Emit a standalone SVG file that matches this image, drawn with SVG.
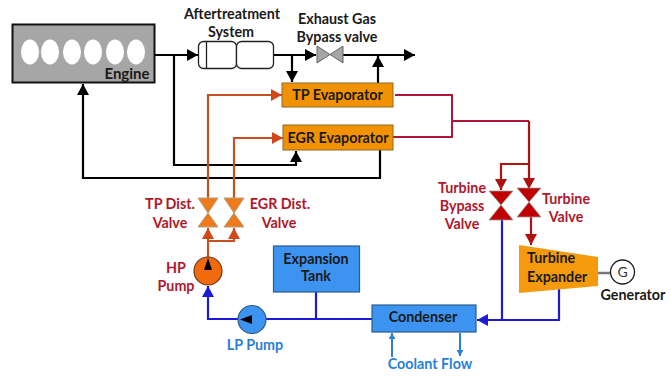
<svg xmlns="http://www.w3.org/2000/svg" width="671" height="376" viewBox="0 0 671 376">
<style>
text{font-family:"Lato","Liberation Sans",sans-serif;font-weight:700;font-size:14.300px;text-anchor:middle}
.k{fill:#1a1a1a}.r{fill:#b0172a}.b{fill:#2a7fd6}
.w{fill:none;stroke-linejoin:miter}
.kl{stroke:#000;stroke-width:2.200}.ol{stroke:#c5511f;stroke-width:2.200}.rl{stroke:#b0153a;stroke-width:2}.dr{stroke:#b01010;stroke-width:2.200}.bl{stroke:#1c1cd6;stroke-width:2.200}.cl{stroke:#2a7fd6;stroke-width:2}
.or{fill:#f39200;stroke:#8a6a30;stroke-width:1}
.bx{fill:#3d94f0;stroke:#2b5c8c;stroke-width:1.200}
</style>
<defs>
<marker id="ak" markerWidth="13" markerHeight="13" refX="11" refY="6" orient="auto" markerUnits="userSpaceOnUse"><path d="M0 0L11 6L0 12Z" fill="#000"/></marker>
<marker id="ao" markerWidth="13" markerHeight="13" refX="11" refY="6" orient="auto" markerUnits="userSpaceOnUse"><path d="M0 0L11 6L0 12Z" fill="#d0481a"/></marker>
<marker id="ar" markerWidth="13" markerHeight="13" refX="11" refY="6" orient="auto" markerUnits="userSpaceOnUse"><path d="M0 0L11 6L0 12Z" fill="#b01010"/></marker>
<marker id="ab" markerWidth="13" markerHeight="13" refX="11" refY="6" orient="auto" markerUnits="userSpaceOnUse"><path d="M0 0L11 6L0 12Z" fill="#1c1cd6"/></marker>
<marker id="ac" markerWidth="8" markerHeight="8" refX="6" refY="3.500" orient="auto" markerUnits="userSpaceOnUse"><path d="M0 0L6 3.500L0 7Z" fill="#2a7fd6"/></marker>
</defs>
<rect width="671" height="376" fill="#fff"/>
<g id="connectors" class="w">
<path class="kl" d="M155 55H198" marker-end="url(#ak)"/>
<path class="kl" d="M273 55H316" marker-end="url(#ak)"/>
<path class="kl" d="M343 55H415" marker-end="url(#ak)"/>
<path class="kl" d="M292 55V82" marker-end="url(#ak)"/>
<path class="kl" d="M378 83V56" marker-end="url(#ak)"/>
<path class="kl" d="M174 55V165H296V151" marker-end="url(#ak)"/>
<path class="kl" d="M380 150V178H83V84" marker-end="url(#ak)"/>
<path class="ol" d="M208 198V95H282" marker-end="url(#ao)"/>
<path class="ol" d="M234 198V138H283" marker-end="url(#ao)"/>
<path class="ol" d="M208 257V228" marker-end="url(#ao)"/>
<path class="ol" d="M208 241H234V228" marker-end="url(#ao)"/>
<path class="rl" d="M395 95H452V137H393"/>
<path class="rl" d="M452 121H529"/>
<path class="dr" d="M529 121V189" marker-end="url(#ar)"/>
<path class="dr" d="M529 164H501V190" marker-end="url(#ar)"/>
<path class="dr" d="M531 217V245" marker-end="url(#ar)"/>
<path class="bl" d="M238 319H208V286" marker-end="url(#ab)"/>
<path class="bl" d="M266 319H372"/>
<path class="bl" d="M316 292V319"/>
<path class="bl" d="M502 220V319"/>
<path class="bl" d="M559 289V320H477" marker-end="url(#ab)"/>
<path class="cl" d="M392 357V333" marker-end="url(#ac)"/>
<path class="cl" d="M460 333V356" marker-end="url(#ac)"/>
<path d="M598 273H611" stroke="#777" stroke-width="2.500"/>
</g>
<g id="engine">
<rect x="12.500" y="24.500" width="142" height="58" fill="#a6a6a6" stroke="#111" stroke-width="2"/>
<g fill="#fff"><ellipse cx="30" cy="52" rx="9" ry="12.500"/><ellipse cx="50" cy="52" rx="9" ry="12.500"/><ellipse cx="72" cy="52" rx="9" ry="12.500"/><ellipse cx="93" cy="52" rx="9" ry="12.500"/><ellipse cx="115" cy="52" rx="9" ry="12.500"/><ellipse cx="136" cy="52" rx="9" ry="12.500"/></g>
<text x="127" y="79" class="k" style="font-size:15px">Engine</text>
</g>
<g id="aftertreatment">
<rect x="198.500" y="41.500" width="38" height="27" rx="5" fill="#fff" stroke="#222" stroke-width="1.300"/>
<rect x="236.500" y="41.500" width="37" height="27" rx="5" fill="#fff" stroke="#222" stroke-width="1.300"/>
<path d="M206.500 41.500V68.500" stroke="#222" stroke-width="1.300"/>
<text x="232" y="19" class="k">Aftertreatment</text>
<text x="231" y="37" class="k">System</text>
</g>
<g id="bypass-valve">
<path d="M317 46L343 63V46L317 63Z" fill="#a6a6a6" stroke="#666" stroke-width="1"/>
<text x="337" y="24" class="k">Exhaust Gas</text>
<text x="337" y="42" class="k">Bypass valve</text>
</g>
<g id="tp-evaporator"><rect x="282" y="83" width="111" height="24" class="or"/><text x="337.500" y="100" class="k">TP Evaporator</text></g>
<g id="egr-evaporator"><rect x="283" y="125" width="110" height="25" class="or"/><text x="338" y="143" class="k">EGR Evaporator</text></g>
<g id="tp-dist-valve">
<path d="M198 198H218L208 213L218 227H198L208 213Z" fill="#f07a1a" stroke="#b0a080" stroke-width="1"/>
<text x="170" y="209" class="r">TP Dist.</text><text x="170" y="228" class="r">Valve</text>
</g>
<g id="egr-dist-valve">
<path d="M224 198H244L234 213L244 227H224L234 213Z" fill="#f07a1a" stroke="#b0a080" stroke-width="1"/>
<text x="280" y="209" class="r">EGR Dist.</text><text x="279" y="228" class="r">Valve</text>
</g>
<g id="hp-pump">
<circle cx="208" cy="271" r="14" fill="#f26a0c" stroke="#6b3a1a" stroke-width="1.200"/>
<path d="M208 258L212 270H204Z" fill="#000"/>
<text x="176" y="273" class="r">HP</text><text x="176" y="291" class="r">Pump</text>
</g>
<g id="lp-pump">
<circle cx="252" cy="319.500" r="14" fill="#3d94f0" stroke="#2b5c8c" stroke-width="1.200"/>
<path d="M240 319.500L252 315V324Z" fill="#000"/>
<text x="255" y="350" class="b">LP Pump</text>
</g>
<g id="expansion-tank"><rect x="273.500" y="246" width="86" height="46" class="bx"/><text x="316" y="264" class="k">Expansion</text><text x="316" y="281" class="k">Tank</text></g>
<g id="condenser"><rect x="372" y="305" width="104" height="27" class="bx"/><text x="423" y="322" class="k">Condenser</text></g>
<g id="coolant"><text x="430" y="369" class="b">Coolant Flow</text></g>
<g id="turbine-bypass-valve">
<path d="M489 191H513L501 205L513 220H489L501 205Z" fill="#c00000" stroke="#999" stroke-width="0.800"/>
<text x="462" y="193" class="r">Turbine</text><text x="462" y="211" class="r">Bypass</text><text x="462" y="229" class="r">Valve</text>
</g>
<g id="turbine-valve">
<path d="M517 188H541L529 202L541 217H517L529 202Z" fill="#c00000" stroke="#999" stroke-width="0.800"/>
<text x="566" y="204" class="r">Turbine</text><text x="566" y="222" class="r">Valve</text>
</g>
<g id="turbine-expander">
<path d="M519 245L598 257V286L519 293Z" fill="#f59a0c"/>
<text x="527" y="263" class="k" style="text-anchor:start">Turbine</text><text x="527" y="282" class="k" style="text-anchor:start">Expander</text>
</g>
<g id="generator">
<circle cx="622.500" cy="272" r="12" fill="#fff" stroke="#222" stroke-width="1.300"/>
<text x="622.500" y="277" style="font-weight:400;font-size:14px;fill:#333">G</text>
<text x="633" y="300" class="k">Generator</text>
</g>
</svg>
